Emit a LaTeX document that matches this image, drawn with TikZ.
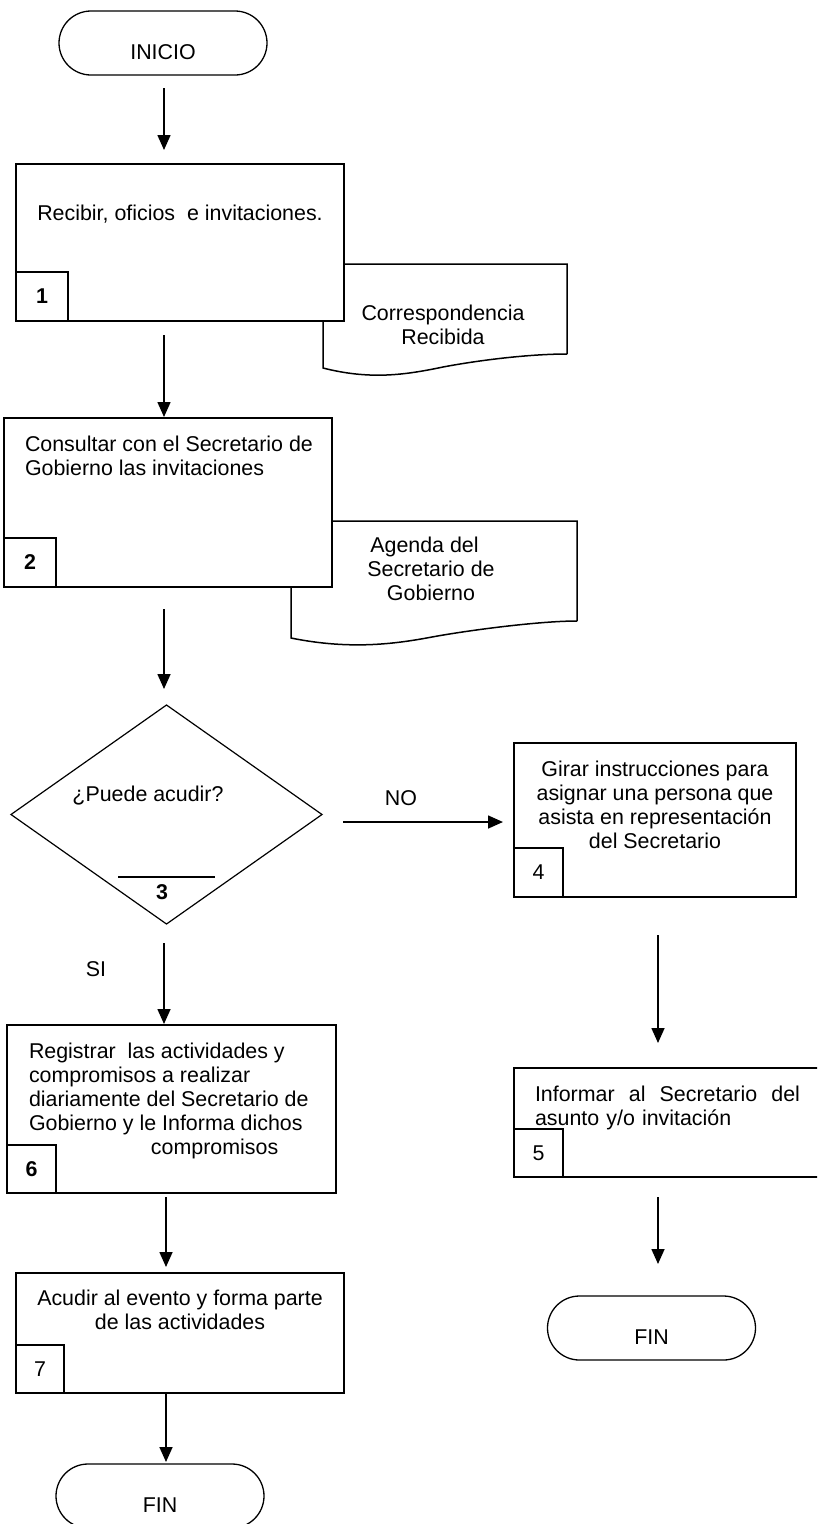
\documentclass[tikz,border=0pt]{standalone}
\usepackage{fontspec}
\setmainfont{Liberation Sans}
\usetikzlibrary{arrows.meta,shapes.geometric,calc}
\begin{document}
\begin{tikzpicture}[x=1pt,y=-1pt,
  every node/.style={inner sep=0pt, outer sep=0pt},
  txt/.style={font=\fontsize{21.4}{24}\selectfont},
  stepbox/.style={draw, fill=white, line width=1.5pt},
  numbox/.style={draw, fill=white, line width=1.5pt, font=\fontsize{21.4}{24}\selectfont},
  terminal/.style={draw, line width=1.3pt, rounded corners=32pt, minimum width=208pt,
    minimum height=64pt, font=\fontsize{21.4}{24}\selectfont, text height=32.6pt, text depth=0pt},
  decision/.style={draw, diamond, line width=1.2pt, minimum width=311pt, minimum height=219pt},
  docline/.style={draw, fill=white, line width=1.5pt},
  arr/.style={line width=1.6pt, -{Triangle[length=15pt,width=13pt]}}
]
\path[use as bounding box] (0,0) rectangle (817,1524);
\clip (0,0) rectangle (817,1524);

% column guides for the connectors
\coordinate (colL) at (164,0);
\coordinate (colL2) at (166,0);
\coordinate (colR) at (658,0);
\coordinate (rowNO) at (0,822);

% start
\node[terminal] (inicio) at (163,43) {INICIO};

% step 1 with its document
\path[docline] (567,354) -- (567,264) -- (323,264) -- (323,368)
  .. controls (370,380) and (405,375) .. (443,367)
  .. controls (480,360) and (530,354) .. (567,354);
\node[txt, anchor=north, align=center] (doc1txt) at (443,305) {Correspondencia\\Recibida};
\node[stepbox, minimum width=328pt, minimum height=157pt] (box1) at (180,242.5) {};
\node[txt, anchor=base] (box1txt) at (180,220) {Recibir, oficios~ e invitaciones.};
\node[numbox, minimum width=52pt, minimum height=49pt] (num1) at (42,296.5) {\bfseries 1};

% step 2 with its document
\path[docline] (577,621) -- (577,521) -- (291,521) -- (291,638)
  .. controls (350,650) and (395,644) .. (432,637)
  .. controls (470,630) and (540,621) .. (577,621);
\node[txt, anchor=north, align=center] (doc2txt) at (431,537)
  {Agenda del\hspace*{13pt}\\Secretario de\\Gobierno};
\node[stepbox, minimum width=328pt, minimum height=169pt] (box2) at (168,502.5) {};
\node[txt, anchor=north west, align=left] (box2txt) at (25,436)
  {Consultar con el Secretario de\\Gobierno las invitaciones};
\node[numbox, minimum width=52pt, minimum height=49pt] (num2) at (30,562.5) {\bfseries 2};

% decision 3
\node[decision] (dia) at (166.5,814.5) {};
\node[txt, anchor=base] (diatxt) at (148,801) {¿Puede acudir?};
\coordinate (barL) at (118,877);
\coordinate (barR) at (215,877);
\draw[line width=1.2pt] (barL) -- (barR);
\node[txt, anchor=base] (num3) at (162,899) {\bfseries 3};

% step 4
\node[stepbox, minimum width=282pt, minimum height=154pt] (box4) at (655,820) {};
\node[txt, anchor=north, align=center] (box4txt) at (655,761)
  {Girar instrucciones para\\asignar una persona que\\asista en representación\\del Secretario};
\node[numbox, minimum width=49pt, minimum height=49pt] (num4) at (538.5,872.5) {4};

% step 5
\node[stepbox, minimum width=308pt, minimum height=109pt] (box5) at (668,1122.5) {};
\node[txt, anchor=north west, text width=265pt, align=left] (box5txt) at (535,1086)
  {Informar\hfill al\hfill Secretario\hfill del\\asunto y/o invitación};
\node[numbox, minimum width=49pt, minimum height=48pt] (num5) at (538.5,1153) {5};

% step 6
\node[stepbox, minimum width=329pt, minimum height=168pt] (box6) at (171.5,1109) {};
\node[txt, anchor=north west, align=left] (box6txt) at (29,1043)
  {Registrar~ las actividades y\\compromisos a realizar\\diariamente del Secretario de\\Gobierno y le Informa dichos\\\hspace*{122pt}compromisos};
\node[numbox, minimum width=49pt, minimum height=48pt] (num6) at (31.5,1169) {\bfseries 6};

% step 7
\node[stepbox, minimum width=328pt, minimum height=120pt] (box7) at (180,1333) {};
\node[txt, anchor=north, align=center] (box7txt) at (180,1290)
  {Acudir al evento y forma parte\\de las actividades};
\node[numbox, minimum width=48pt, minimum height=48pt] (num7) at (40,1369) {7};

% ends
\node[terminal] (fin1) at (160,1496) {FIN};
\node[terminal] (fin2) at (651.5,1328) {FIN};

% connectors
\draw[arr, shorten <=13pt, shorten >=14pt] (inicio.south -| colL) -- (box1.north -| colL);
\draw[arr, shorten <=14pt, shorten >=1pt] (box1.south -| colL) -- (box2.north -| colL);
\draw[arr, shorten <=22pt, shorten >=16pt] (box2.south -| colL) -- (dia.north -| colL);
\draw[arr, shorten <=21pt, shorten >=11pt] (dia.east |- rowNO) -- (box4.west |- rowNO);
\draw[arr, shorten <=19pt, shorten >=1pt] (dia.south -| colL) -- (box6.north -| colL);
\draw[arr, shorten <=38pt, shorten >=25pt] (box4.south -| colR) -- (box5.north -| colR);
\draw[arr, shorten <=4pt, shorten >=6pt] (box6.south -| colL2) -- (box7.north -| colL2);
\draw[arr, shorten <=0pt, shorten >=2pt] (box7.south -| colL2) -- (fin1.north -| colL2);
\draw[arr, shorten <=20pt, shorten >=32pt] (box5.south -| colR) -- (fin2.north -| colR);

% branch labels
\node[txt, anchor=base] (lblNO) at (401,805) {NO};
\node[txt, anchor=base] (lblSI) at (96,976) {SI};
\end{tikzpicture}
\end{document}
